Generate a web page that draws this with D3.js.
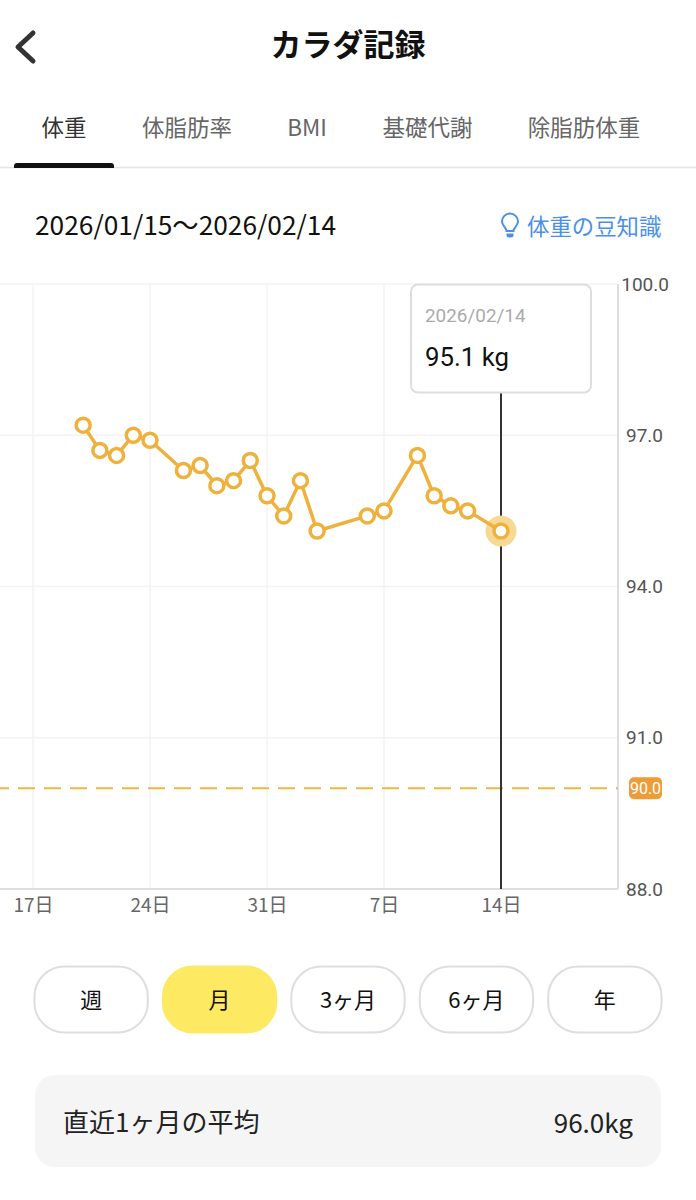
<!DOCTYPE html>
<html lang="ja">
<head>
<meta charset="utf-8">
<title>カラダ記録</title>
<script src="https://cdn.jsdelivr.net/npm/d3@7"></script>
<style>
    body { margin: 0; background: #fff; }
    svg { display: block; }
    text { font-family: "Noto Sans CJK JP", "Noto Sans", sans-serif; }
    .num { font-family: Roboto, sans-serif; }
    .domain { display: none; }
</style>
</head>
<body>
<div id="chart"></div>
<script>
// DATA
const dates = ["2026-01-20", "2026-01-21", "2026-01-22", "2026-01-23", "2026-01-24",
    "2026-01-26", "2026-01-27", "2026-01-28", "2026-01-29", "2026-01-30", "2026-01-31",
    "2026-02-01", "2026-02-02", "2026-02-03", "2026-02-06", "2026-02-07",
    "2026-02-09", "2026-02-10", "2026-02-11", "2026-02-12", "2026-02-14"];
const weights = [97.2, 96.7, 96.6, 97.0, 96.9,
    96.3, 96.4, 96.0, 96.1, 96.5, 95.8,
    95.4, 96.1, 95.1, 95.4, 95.5,
    96.6, 95.8, 95.6, 95.5, 95.1];
const xTicks = ["2026-01-17", "2026-01-24", "2026-01-31", "2026-02-07", "2026-02-14"];
const yTicks = [88, 91, 94, 97, 100];
const goalWeight = 90;
const averageWeight = 96.0;
const tabs = ["体重", "体脂肪率", "BMI", "基礎代謝", "除脂肪体重"];
const ranges = ["週", "月", "3ヶ月", "6ヶ月", "年"];

const parseDay = d3.utcParse("%Y-%m-%d");
const points = dates.map((d, i) => ({ date: parseDay(d), weight: weights[i] }));
const selected = points[points.length - 1];

const svg = d3.select("#chart").append("svg")
    .attr("width", 696)
    .attr("height", 1200);

// HEADER
svg.append("path")
    .attr("d", "M33,33 L18,47 L33,61")
    .attr("fill", "none")
    .attr("stroke", "#333")
    .attr("stroke-width", 5)
    .attr("stroke-linecap", "round")
    .attr("stroke-linejoin", "round");

svg.append("text")
    .attr("x", 348).attr("y", 56)
    .attr("text-anchor", "middle")
    .attr("font-size", 31).attr("font-weight", 700)
    .attr("fill", "#111")
    .text("カラダ記録");

// TABS
const tabX = [64, 187, 307, 427.5, 584];
svg.selectAll(".tab").data(tabs).join("text")
    .attr("class", "tab")
    .attr("x", (d, i) => tabX[i]).attr("y", 136)
    .attr("text-anchor", "middle")
    .attr("font-size", 22.5)
    .attr("fill", (d, i) => i === 0 ? "#333" : "#666")
    .text(d => d);

svg.append("line")
    .attr("x1", 0).attr("x2", 696)
    .attr("y1", 167.5).attr("y2", 167.5)
    .attr("stroke", "#e4e4e4").attr("stroke-width", 1.5);

svg.append("path")
    .attr("d", "M14,168 V166 Q14,163 17,163 H111 Q114,163 114,166 V168 Z")
    .attr("fill", "#111");

// DATE RANGE + LINK
svg.append("text")
    .attr("x", 35).attr("y", 235)
    .attr("font-size", 26.3).attr("fill", "#111")
    .text("2026/01/15〜2026/02/14");

svg.append("path")
    .attr("d", "M506.5,231 C506.5,228 502,225.5 502,221.5 A8,8 0 0 1 518,221.5 C518,225.5 513.5,228 513.5,231 Z")
    .attr("fill", "none")
    .attr("stroke", "#4a90e8")
    .attr("stroke-width", 2);
svg.append("path")
    .attr("d", "M506.5,233.5 H513.5 V235 Q513.5,237.5 511,237.5 H509 Q506.5,237.5 506.5,235 Z")
    .attr("fill", "#4a90e8");

svg.append("text")
    .attr("x", 527).attr("y", 235)
    .attr("font-size", 22.4).attr("fill", "#4a90e8")
    .text("体重の豆知識");

// SCALES
const x = d3.scaleUtc()
    .domain([parseDay("2026-01-17"), parseDay("2026-02-14")])
    .range([33, 501]);

const y = d3.scaleLinear()
    .domain([88, 100])
    .range([889, 284]);

const axisRightX = 618;
const tickDates = xTicks.map(parseDay);

// GRID
svg.append("g").selectAll("line").data(yTicks.slice(1)).join("line")
    .attr("x1", 0).attr("x2", axisRightX)
    .attr("y1", d => y(d)).attr("y2", d => y(d))
    .attr("stroke", "#f3f3f3").attr("stroke-width", 1.5);

svg.append("g").selectAll("line").data(tickDates.slice(0, 4)).join("line")
    .attr("x1", d => x(d)).attr("x2", d => x(d))
    .attr("y1", y(100)).attr("y2", y(88))
    .attr("stroke", "#f3f3f3").attr("stroke-width", 1.5);

// AXES
svg.append("line")
    .attr("x1", axisRightX).attr("x2", axisRightX)
    .attr("y1", y(100)).attr("y2", y(88))
    .attr("stroke", "#dedede").attr("stroke-width", 2);
svg.append("line")
    .attr("x1", 0).attr("x2", axisRightX)
    .attr("y1", y(88)).attr("y2", y(88))
    .attr("stroke", "#dedede").attr("stroke-width", 2);

const xAxis = svg.append("g")
    .attr("transform", `translate(0,${y(88)})`)
    .call(d3.axisBottom(x)
        .tickValues(tickDates)
        .tickSize(0)
        .tickPadding(10)
        .tickFormat(d => d.getUTCDate() + "日"));
xAxis.selectAll("text")
    .attr("font-size", 19)
    .attr("fill", "#666");

const yAxis = svg.append("g")
    .attr("transform", `translate(${axisRightX},0)`)
    .call(d3.axisRight(y)
        .tickValues(yTicks)
        .tickSize(0)
        .tickPadding(0)
        .tickFormat(d3.format(".1f")));
yAxis.selectAll("text")
    .attr("class", "num")
    .attr("x", 45)
    .attr("text-anchor", "end")
    .attr("font-size", 19)
    .attr("fill", "#555");
yAxis.selectAll(".tick").filter(d => d === 100).select("text").attr("x", 51);

// GOAL LINE
svg.append("line")
    .attr("x1", 0).attr("x2", axisRightX)
    .attr("y1", y(goalWeight)).attr("y2", y(goalWeight))
    .attr("stroke", "#f2b544")
    .attr("stroke-width", 2)
    .attr("stroke-dasharray", "17 9")
    .attr("stroke-dashoffset", 8);

svg.append("rect")
    .attr("x", 629).attr("y", y(goalWeight) - 11)
    .attr("width", 33).attr("height", 22)
    .attr("rx", 5)
    .attr("fill", "#ee9c38");
svg.append("text")
    .attr("class", "num")
    .attr("x", 645.5).attr("y", y(goalWeight) + 6)
    .attr("text-anchor", "middle")
    .attr("font-size", 16).attr("fill", "#fff")
    .text(d3.format(".1f")(goalWeight));

// CROSSHAIR + TOOLTIP
svg.append("line")
    .attr("x1", x(selected.date)).attr("x2", x(selected.date))
    .attr("y1", 392).attr("y2", y(88))
    .attr("stroke", "#333").attr("stroke-width", 2);

svg.append("rect")
    .attr("x", 411).attr("y", 284.5)
    .attr("width", 180).attr("height", 108)
    .attr("rx", 7)
    .attr("fill", "#fff")
    .attr("stroke", "#dedede").attr("stroke-width", 2);

svg.append("text")
    .attr("class", "num")
    .attr("x", 425).attr("y", 322)
    .attr("font-size", 18.9).attr("fill", "#aaa")
    .text("2026/02/14");

svg.append("text")
    .attr("class", "num")
    .attr("x", 425).attr("y", 366)
    .attr("font-size", 25.8).attr("fill", "#111")
    .text(selected.weight.toFixed(1) + " kg");

// LINE + POINTS
const line = d3.line()
    .x(d => x(d.date))
    .y(d => y(d.weight));

svg.append("circle")
    .attr("cx", x(selected.date)).attr("cy", y(selected.weight))
    .attr("r", 15.5)
    .attr("fill", "#f6d995");

svg.append("path")
    .datum(points)
    .attr("d", line)
    .attr("fill", "none")
    .attr("stroke", "#f0b13c")
    .attr("stroke-width", 3.5);

svg.append("g").selectAll("circle").data(points).join("circle")
    .attr("cx", d => x(d.date))
    .attr("cy", d => y(d.weight))
    .attr("r", 7)
    .attr("fill", "#fff")
    .attr("stroke", "#f0b13c")
    .attr("stroke-width", 3.5);

// RANGE BUTTONS
const btn = d3.scaleBand()
    .domain(ranges)
    .range([34, 662])
    .paddingInner(0.11);

const buttons = svg.selectAll(".btn").data(ranges).join("g")
    .attr("class", "btn")
    .attr("transform", d => `translate(${btn(d)},966)`);

buttons.append("rect")
    .attr("x", 0.5).attr("y", 0.5)
    .attr("width", btn.bandwidth() - 1).attr("height", 66)
    .attr("rx", 30)
    .attr("fill", d => d === "月" ? "#fdea62" : "#fff")
    .attr("stroke", d => d === "月" ? "#fdea62" : "#dedede")
    .attr("stroke-width", 2);

buttons.append("text")
    .attr("x", btn.bandwidth() / 2).attr("y", 42)
    .attr("text-anchor", "middle")
    .attr("font-size", 22).attr("fill", "#111")
    .text(d => d);

// AVERAGE PANEL
svg.append("rect")
    .attr("x", 35).attr("y", 1075)
    .attr("width", 626).attr("height", 92)
    .attr("rx", 20)
    .attr("fill", "#f5f5f5");

svg.append("text")
    .attr("x", 63).attr("y", 1132)
    .attr("font-size", 26).attr("fill", "#222")
    .text("直近1ヶ月の平均");

svg.append("text")
    .attr("x", 633).attr("y", 1133)
    .attr("text-anchor", "end")
    .attr("font-size", 26).attr("fill", "#222")
    .text(d3.format(".1f")(averageWeight) + "kg");
</script>
</body>
</html>
